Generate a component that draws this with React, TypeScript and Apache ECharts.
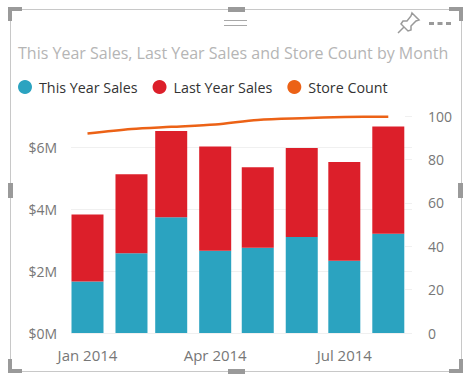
import React, { useEffect, useRef } from "react";
import * as echarts from "echarts";

const months = ["Jan 2014", "Feb 2014", "Mar 2014", "Apr 2014", "May 2014", "Jun 2014", "Jul 2014", "Aug 2014"];
const thisYearSales = [1.66, 2.57, 3.73, 2.65, 2.75, 3.1, 2.33, 3.2];
const lastYearSales = [2.16, 2.55, 2.79, 3.37, 2.6, 2.87, 3.19, 3.46];
const storeCount = [91.9, 94, 95, 96.1, 98.2, 99, 99.5, 99.7];
const labelledMonths = [0, 3, 6];

const monthStarts = months.map((_, i) => Date.UTC(2014, i, 1));
const DAY = 86400000;
const pairs = (values: number[]) => values.map((v, i) => [monthStarts[i], v]);

const FONT = "Open Sans";
const BLUE = "#2ba3c0";
const RED = "#dc1f2a";
const ORANGE = "#ec6216";
const HANDLE = "#9a9a9a";

echarts.graphic.registerShape(
  "pinIcon",
  echarts.graphic.extendPath("M14 1 L21 8 L18 9 L13 14 L13 18 L10 19 L3 12 L5 9 L9 9 L13 4 Z M6 15 L0 21", {})
);

const rect = (x: number, y: number, w: number, h: number, fill: string) => ({
  type: "rect",
  shape: { x, y, width: w, height: h },
  style: { fill },
  silent: true,
});

export default function App() {
  const ref = useRef<HTMLDivElement>(null);
  useEffect(() => {
    const chart = echarts.init(ref.current!, undefined, { renderer: "svg" });
    chart.setOption({
      animation: false,
      useUTC: true,
      textStyle: { fontFamily: FONT },
      title: {
        text: "This Year Sales, Last Year Sales and Store Count by Month",
        left: 18,
        top: 45,
        padding: 0,
        textStyle: { fontFamily: FONT, fontSize: 16, fontWeight: "normal", color: "#b5b5b5" },
      },
      legend: {
        left: 18,
        top: 80,
        padding: 0,
        icon: "circle",
        itemWidth: 14,
        itemHeight: 14,
        itemGap: 15,
        textStyle: { fontFamily: FONT, fontSize: 14.3, color: "#333", padding: [0, 0, 0, 2] },
        data: ["This Year Sales", "Last Year Sales", "Store Count"],
      },
      grid: { left: 71, right: 57, top: 116, bottom: 48 },
      xAxis: {
        type: "time",
        min: monthStarts[0] - 0.35 * DAY,
        max: monthStarts[7] + 5.43 * DAY,
        axisLine: { show: false },
        axisTick: { show: false },
        splitLine: { show: false },
        axisLabel: {
          interval: 0,
          hideOverlap: false,
          showMinLabel: false,
          showMaxLabel: false,
          formatter: (v: number) => {
            const i = monthStarts.indexOf(v);
            return labelledMonths.includes(i) ? months[i] : "";
          },
          color: "#777",
          fontSize: 15,
          margin: 14,
          fontFamily: FONT,
        },
      },
      yAxis: [
        {
          type: "value",
          min: 0,
          max: 7,
          interval: 2,
          axisLine: { show: false },
          axisTick: { show: false },
          axisLabel: {
            color: "#777",
            fontSize: 14,
            margin: 14,
            fontFamily: FONT,
            showMaxLabel: false,
            formatter: (v: number) => `$${v}M`,
          },
          splitLine: { show: true, showMaxLine: false, lineStyle: { color: "#f0f0f0", width: 1 } },
        },
        {
          type: "value",
          min: 0,
          max: 100,
          interval: 20,
          position: "right",
          axisLine: { show: false },
          axisTick: { show: true, inside: true, length: 7, lineStyle: { color: "#f0f0f0", width: 1 } },
          axisLabel: { color: "#777", fontSize: 14, margin: 16, fontFamily: FONT },
          splitLine: { show: false },
        },
      ],
      series: [
        { name: "This Year Sales", type: "bar", stack: "sales", barWidth: 32, data: pairs(thisYearSales), itemStyle: { color: BLUE } },
        { name: "Last Year Sales", type: "bar", stack: "sales", barWidth: 32, data: pairs(lastYearSales), itemStyle: { color: RED } },
        {
          name: "Store Count",
          type: "line",
          yAxisIndex: 1,
          smooth: 0.3,
          showSymbol: false,
          data: pairs(storeCount),
          itemStyle: { color: ORANGE },
          lineStyle: { color: ORANGE, width: 2.5 },
        },
      ],
      graphic: [
        {
          type: "rect",
          shape: { x: 10.5, y: 9.5, width: 451, height: 362 },
          style: { fill: "none", stroke: "#c8c8c8", lineWidth: 1 },
          silent: true,
        },
        rect(8, 7, 14, 4, HANDLE),
        rect(8, 7, 4, 14, HANDLE),
        rect(449, 7, 14, 4, HANDLE),
        rect(459, 7, 4, 14, HANDLE),
        rect(8, 369, 14, 4, HANDLE),
        rect(8, 359, 4, 14, HANDLE),
        rect(449, 369, 14, 4, HANDLE),
        rect(459, 359, 4, 14, HANDLE),
        rect(228, 7, 17, 5, HANDLE),
        rect(228, 369, 17, 5, HANDLE),
        rect(8, 183, 5, 15, HANDLE),
        rect(458, 183, 5, 15, HANDLE),
        rect(224, 20, 23, 1, "#a8a8a8"),
        rect(224, 25, 23, 1, "#a8a8a8"),
        rect(429, 22, 5, 3, HANDLE),
        rect(437.5, 22, 5, 3, HANDLE),
        rect(446, 22, 5, 3, HANDLE),
        {
          type: "pinIcon",
          x: 398,
          y: 12,
          style: { fill: "none", stroke: "#9a9a9a", lineWidth: 1.5 },
          silent: true,
        },
      ],
    });
    return () => chart.dispose();
  }, []);
  return <div ref={ref} style={{ position: "absolute", left: 0, top: 0, width: 469, height: 381 }} />;
}
